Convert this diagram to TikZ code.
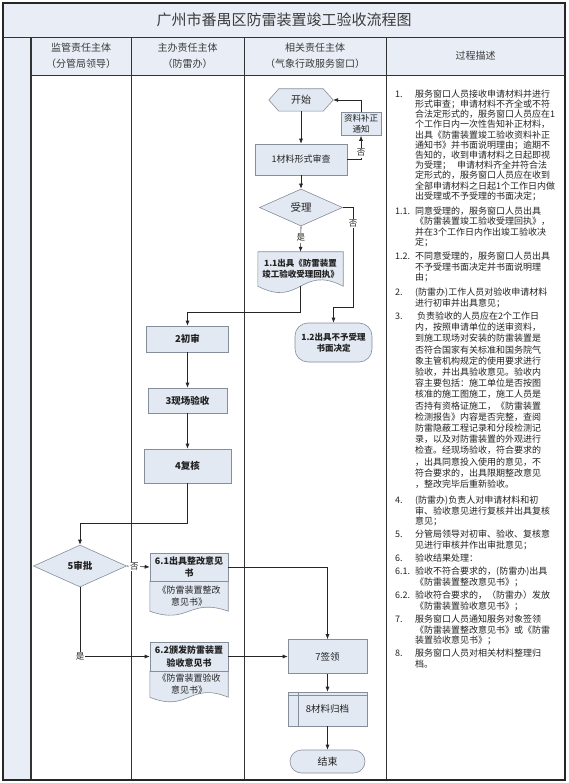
\documentclass[tikz,border=0pt]{standalone}
\usepackage{fontspec}
\setmainfont{Noto Sans CJK SC}
\usetikzlibrary{shapes.geometric,arrows.meta}
\pgfdeclarelayer{gridlayer}
\pgfdeclarelayer{shapelayer}
\pgfsetlayers{gridlayer,shapelayer,main}
\definecolor{nfill}{HTML}{E3E9F3}
\definecolor{nline}{HTML}{858E9B}
\definecolor{hfill}{HTML}{E9EEF6}
\definecolor{txt}{HTML}{222222}
\definecolor{htxt}{HTML}{3A3A3A}
\newcommand\drawdoc[3]{\draw[#3] (#1.north west) -- (#1.north east) -- (#1.south east) .. controls ([yshift=#2]#1.south) and ([yshift=-#2]#1.south) .. (#1.south west) -- cycle;}
\newcommand\descpara[5]{%
  \node[desc, anchor=base west] (#1n) at (395,#2+3.4) {#4};
  \foreach \ln [count=\i from 0] in {#5} {
    \node[desc, anchor=base west] (#1l\i) at (415,#2+3.4+\i*#3) {\ln};
  }
}
\tikzset{
  box/.style={draw=nline, fill=nfill, line width=0.6pt, inner sep=1pt, align=center, text=txt},
  shp/.style={draw=nline, fill=nfill, line width=0.6pt},
  plain/.style={inner sep=0pt, align=center, text=txt},
  arr/.style={-{Latex[length=5pt,width=4pt]}, line width=0.6pt, draw=black!85},
  lbl/.style={fill=white, inner sep=1pt, font=\fontsize{8.5}{9}\selectfont, text=txt},
  desc/.style={inner sep=0pt, font=\fontsize{9}{10}\selectfont, text=txt},
  hdr/.style={align=center, font=\fontsize{10}{16}\selectfont, text=htxt},
  gridline/.style={line width=0.9pt, draw=black!80},
  fb/.style 2 args={font=\bfseries\fontsize{#1}{#2}\selectfont},
  fr/.style 2 args={font=\fontsize{#1}{#2}\selectfont},
}
\begin{document}
\begin{tikzpicture}[x=1pt,y=-1pt]
\useasboundingbox (0,0) rectangle (568,783);
% ---------- frame ----------
\begin{pgfonlayer}{gridlayer}
\fill[hfill] (3,3) rectangle (565,37);
\fill[hfill] (3,37) rectangle (31,780);
\fill[hfill] (31,37) rectangle (565,75);
\draw[gridline] (3,37) -- (565,37);
\draw[gridline] (31,75) -- (565,75);
\draw[gridline, line width=1.2pt] (31,37) -- (31,780);
\draw[gridline] (131,37) -- (131,780);
\draw[gridline] (244,37) -- (244,780);
\draw[gridline] (386,37) -- (386,780);
\draw[line width=1.3pt, draw=black!85] (3,3) rectangle (565,780);
\end{pgfonlayer}
\node[font=\fontsize{15}{18}\selectfont, text=htxt] (title) at (284,20) {广州市番禺区防雷装置竣工验收流程图};
\node[hdr] (hd1) at (81,56) {监管责任主体\\（分管局领导）};
\node[hdr] (hd2) at (187.5,56) {主办责任主体\\（防雷办）};
\node[hdr] (hd3) at (315,56) {相关责任主体\\（气象行政服务窗口）};
\node[hdr] (hd4) at (475.5,56) {过程描述};
% ---------- lane 3 ----------
\node[plain, minimum width=64pt, minimum height=22pt, fr={10}{12}] (start) at (301,100) {开始};
\begin{pgfonlayer}{shapelayer}
\draw[shp] (start.west) -- ([xshift=10pt]start.north west) -- ([xshift=-10pt]start.north east) -- (start.east) -- ([xshift=-10pt]start.south east) -- ([xshift=10pt]start.south west) -- cycle;
\end{pgfonlayer}
\node[box, minimum width=40pt, minimum height=23pt, fr={8.5}{10.5}] (bz) at (361,124) {资料补正\\通知};
\node[box, minimum width=92pt, minimum height=31pt, fr={9}{11}] (s1) at (301,159.5) {1材料形式审查};
\node[box, shape=diamond, inner sep=0pt, aspect=2.2, minimum width=83pt, minimum height=37pt, fr={10.5}{12}] (dia) at (301,207.5) {受理};
\node[plain, minimum width=85pt, minimum height=34pt, fb={8.5}{11}] (d11) at (300.5,269) {1.1出具《防雷装置\\竣工验收受理回执》};
\begin{pgfonlayer}{shapelayer}
\drawdoc{d11}{22pt}{shp}
\end{pgfonlayer}
\node[box, rounded corners=13pt, minimum width=77pt, minimum height=39pt, fb={8.5}{11}] (d12) at (333.5,342.5) {1.2出具不予受理\\书面决定};
% ---------- lane 2 ----------
\node[box, minimum width=82pt, minimum height=26pt, fb={9.5}{11}] (n2) at (187.5,339) {2初审};
\node[box, minimum width=79pt, minimum height=25pt, fb={9.5}{11}] (n3) at (187.5,400.5) {3现场验收};
\node[box, minimum width=87pt, minimum height=34pt, fb={9.5}{11}] (n4) at (187.5,466) {4复核};
\node[box, minimum width=78pt, minimum height=28pt, fb={9}{12.5}] (h61) at (189,567) {6.1出具整改意见\\书};
\node[plain, minimum width=78pt, minimum height=30pt, fr={9}{12.5}] (b61) at (189,596) {《防雷装置整改\\意见书》};
\node[box, minimum width=78pt, minimum height=29pt, fb={9}{12.5}] (h62) at (189,656.5) {6.2颁发防雷装置\\验收意见书};
\node[plain, minimum width=78pt, minimum height=26pt, fr={9}{12.5}] (b62) at (189,684) {《防雷装置验收\\意见书》};
\begin{pgfonlayer}{shapelayer}
\drawdoc{b61}{14pt}{shp}
\drawdoc{b62}{16pt}{shp}
\end{pgfonlayer}
% ---------- lane 1 ----------
\node[box, shape=diamond, inner sep=0pt, aspect=2.2, minimum width=93pt, minimum height=42pt, fb={9.5}{11}] (n5) at (80,566) {5审批};
% ---------- lane 3 bottom ----------
\node[box, minimum width=79pt, minimum height=34pt, fr={9.5}{11}] (n7) at (327.5,656.5) {7签领};
\node[box, minimum width=79pt, minimum height=34pt, fr={9.5}{11}] (n8) at (327.5,709) {8材料归档};
\draw[draw=nline, line width=0.6pt] ([yshift=-3.5pt]n8.north west) -- ([yshift=-3.5pt]n8.north east);
\draw[draw=nline, line width=0.6pt] ([xshift=11pt]n8.north west) -- ([xshift=11pt]n8.south west);
\node[box, rounded corners=11.5pt, minimum width=75pt, minimum height=23pt, fr={10}{12}] (n9) at (327.5,761.5) {结束};
% ---------- connectors ----------
\coordinate (c1) at (353,307);
\coordinate (c2) at (300.5,312);
\coordinate (c3) at (187.5,523);
\draw[arr] (start.south) -- (s1.north);
\draw[arr] (s1.south) -- (dia.north);
\draw[arr] (s1.east) -| node[lbl, pos=0.64] {否} (bz.south);
\draw[arr] (bz.north) |- (start.east);
\draw[arr] (dia.south) -- node[lbl, pos=0.45] {是} (d11.north);
\draw[arr] (dia.east) -| node[lbl, pos=0.58] {否} (c1) -| (d12.north);
\draw[arr] (d11.south) -- (c2) -| (n2.north);
\draw[arr] (n2) -- (n3);
\draw[arr] (n3) -- (n4);
\draw[arr] (n4.south) -- (c3) -| (n5.north);
\draw[arr] (n5.east) -- node[lbl, pos=0.33] {否} (h61.west);
\draw[arr] (n5.south) |- node[lbl] {是} (h62.west);
\draw[arr] (h61.east) -| (n7.north);
\draw[arr] (h62.east) -- (n7.west);
\draw[arr] (n7) -- (n8);
\draw[arr] (n8) -- (n9);
% ---------- description ----------
\descpara{pa}{94}{10.2}{1.}{服务窗口人员接收申请材料并进行,
形式审查；申请材料不齐全或不符,
合法定形式的，服务窗口人员应在1,
个工作日内一次性告知补正材料，,
出具《防雷装置竣工验收资料补正,
通知书》并书面说明理由；逾期不,
告知的，收到申请材料之日起即视,
为受理；\hspace{6pt}申请材料齐全并符合法,
定形式的，服务窗口人员应在收到,
全部申请材料之日起1个工作日内做,
出受理或不予受理的书面决定；}
\descpara{pb}{211}{10.5}{1.1.}{同意受理的，服务窗口人员出具,
《防雷装置竣工验收受理回执》，,
并在3个工作日内作出竣工验收决,
定；}
\descpara{pc}{256}{10.7}{1.2.}{不同意受理的，服务窗口人员出具,
不予受理书面决定并书面说明理,
由；}
\descpara{pd}{292.5}{10.5}{2.}{(防雷办)工作人员对验收申请材料,
进行初审并出具意见；}
\descpara{pe}{316}{11.2}{3.}{\hspace{2pt}负责验收的人员应在2个工作日,
内，按照申请单位的送审资料，,
到施工现场对安装的防雷装置是,
否符合国家有关标准和国务院气,
象主管机构规定的使用要求进行,
验收，并出具验收意见。验收内,
容主要包括：施工单位是否按图,
核准的施工图施工，施工人员是,
否持有资格证施工，《防雷装置,
检测报告》内容是否完整，查阅,
防雷隐蔽工程记录和分段检测记,
录，以及对防雷装置的外观进行,
检查。经现场验收，符合要求的,
，出具同意投入使用的意见，不,
符合要求的，出具限期整改意见,
，整改完毕后重新验收。}
\descpara{pf}{500}{10.7}{4.}{(防雷办)负责人对申请材料和初,
审、验收意见进行复核并出具复核,
意见；}
\descpara{pg}{534}{10.7}{5.}{分管局领导对初审、验收、复核意,
见进行审核并作出审批意见；}
\descpara{ph}{558}{10.7}{6.}{验收结果处理：}
\descpara{pi}{571}{10.7}{6.1.}{验收不符合要求的，(防雷办)出具,
《防雷装置整改意见书》；}
\descpara{pj}{595}{10.7}{6.2.}{验收符合要求的，（防雷办）发放,
《防雷装置验收意见书》；}
\descpara{pk}{619}{10.7}{7.}{服务窗口人员通知服务对象签领,
《防雷装置整改意见书》或《防雷,
装置验收意见书》；}
\descpara{pl}{653}{10.7}{8.}{服务窗口人员对相关材料整理归,
档。}
\end{tikzpicture}
\end{document}
